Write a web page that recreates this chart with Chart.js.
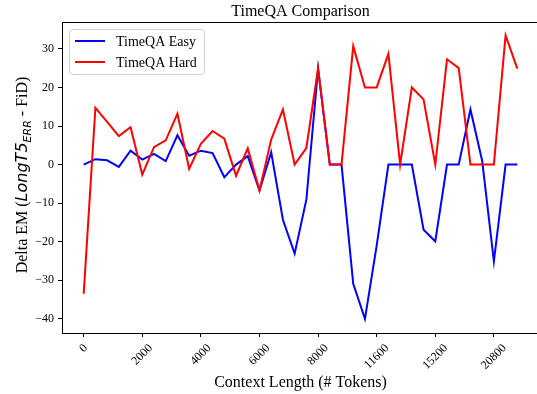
<!DOCTYPE html>
<html>
<head>
<meta charset="utf-8">
<script src="https://cdn.jsdelivr.net/npm/chart.js@4/dist/chart.umd.min.js"></script>
<style>
  html, body { margin: 0; padding: 0; background: #fff; overflow: hidden; }
  #wrap { width: 540px; height: 394px; }
</style>
</head>
<body>
<div id="wrap"><canvas id="chart" width="540" height="394"></canvas></div>
<script>
// ---------------- DATA ----------------

const seriesNames = ['TimeQA Easy', 'TimeQA Hard'];
const seriesColors = ['#0000ff', '#ff0000'];

// one value per measured context length (38 points, plotted by index)
const easyValues = [0, 1.4, 1.1, -0.6, 3.6, 1.3, 2.8, 0.9, 7.6, 2.3,
  3.6, 3.0, -3.3, 0, 2.2, -6.7, 3.2, -14.3, -23.1, -9.1,
  24.9, 0, 0, -30.9, -40, -21, 0, 0, 0, -16.9,
  -19.9, 0, 0, 14.3, 1, -25.1, 0, 0];

const hardValues = [-33.5, 14.7, 11.1, 7.4, 9.7, -2.6, 4.5, 6.3, 13.2, -1.1,
  5.4, 8.7, 6.7, -2.9, 4.2, -6.7, 6.5, 14.3, 0, 4.3,
  24.9, 0, 0, 30.7, 20, 20, 28.7, 0, 20, 16.9,
  0, 27.3, 25, 0, 0, 0, 33.5, 24.9];

// x tick labels sit on every 5th point
const xTickIndex = [0, 5, 10, 15, 20, 25, 30, 35];
const xTickLabels = ['0', '2000', '4000', '6000', '8000', '11600', '15200', '20800'];
const yTickValues = [-40, -30, -20, -10, 0, 10, 20, 30];

const SERIF = '"Liberation Serif", "Times New Roman", serif';

function toPoints(values) {
  return values.map((v, i) => ({ x: i, y: v }));
}

// ---------------- DECORATION PLUGIN ----------------

const decorPlugin = {
  id: 'decor',
  afterDraw(chart) {
    const ctx = chart.ctx;
    const a = chart.chartArea;
    const xs = chart.scales.x;

    ctx.save();

    // frame (matplotlib spines)
    ctx.strokeStyle = '#000';
    ctx.lineWidth = 1;
    ctx.strokeRect(Math.round(a.left) + 0.5, Math.round(a.top) + 0.5,
      Math.round(a.right - a.left) - 1, Math.round(a.bottom - a.top));

    // rotated x tick labels, centred under the tick
    ctx.fillStyle = '#000';
    ctx.font = '12px ' + SERIF;
    ctx.textAlign = 'center';
    ctx.textBaseline = 'middle';
    xTickIndex.forEach((idx, i) => {
      const txt = xTickLabels[i];
      const w = ctx.measureText(txt).width;
      const ext = (w + 12) * Math.SQRT1_2;
      const px = xs.getPixelForValue(idx);
      ctx.save();
      ctx.translate(px, a.bottom + 9 + ext / 2);
      ctx.rotate(-Math.PI / 4);
      ctx.fillText(txt, 0, 0);
      ctx.restore();
    });

    // title + x label
    const cx = (a.left + a.right) / 2;
    ctx.font = '16px ' + SERIF;
    ctx.textBaseline = 'alphabetic';
    ctx.fillText('TimeQA Comparison', cx, 15.5);
    ctx.fillText('Context Length (# Tokens)', cx, 387);

    // y label with mathtext-like part
    const parts = [
      { t: 'Delta EM (', f: '16px ' + SERIF, dy: 0 },
      { t: 'LongT5', f: 'italic 16px "DejaVu Sans"', dy: 0 },
      { t: 'ERR', f: 'italic 11px "DejaVu Sans"', dy: 3.5 },
      { t: ' - FiD)', f: '16px ' + SERIF, dy: 0 }
    ];
    let total = 0;
    parts.forEach(p => { ctx.font = p.f; p.w = ctx.measureText(p.t).width; total += p.w; });
    ctx.save();
    ctx.translate(27, 175);
    ctx.rotate(-Math.PI / 2);
    ctx.textAlign = 'left';
    let x0 = -total / 2;
    parts.forEach(p => { ctx.font = p.f; ctx.fillText(p.t, x0, p.dy); x0 += p.w; });
    ctx.restore();

    // legend box
    const lx = 69.5, ly = 29.5, lw = 135, lh = 45, r = 3;
    ctx.beginPath();
    ctx.moveTo(lx + r, ly);
    ctx.arcTo(lx + lw, ly, lx + lw, ly + lh, r);
    ctx.arcTo(lx + lw, ly + lh, lx, ly + lh, r);
    ctx.arcTo(lx, ly + lh, lx, ly, r);
    ctx.arcTo(lx, ly, lx + lw, ly, r);
    ctx.closePath();
    ctx.fillStyle = 'rgba(255,255,255,0.8)';
    ctx.fill();
    ctx.strokeStyle = '#d0d0d0';
    ctx.stroke();

    chart.data.datasets.forEach((ds, i) => {
      const yy = 41 + i * 21;
      ctx.strokeStyle = ds.borderColor;
      ctx.lineWidth = 2;
      ctx.beginPath();
      ctx.moveTo(75, yy);
      ctx.lineTo(105, yy);
      ctx.stroke();
      ctx.fillStyle = '#000';
      ctx.font = '14px ' + SERIF;
      ctx.textAlign = 'left';
      ctx.fillText(ds.label, 116, yy + 5);
    });

    ctx.restore();
  }
};

// ---------------- CHART ----------------

new Chart(document.getElementById('chart'), {
  type: 'line',
  data: {
    datasets: [
      {
        label: seriesNames[0],
        data: toPoints(easyValues),
        borderColor: seriesColors[0],
        borderWidth: 2,
        pointRadius: 0,
        tension: 0,
        fill: false,
        order: 1
      },
      {
        label: seriesNames[1],
        data: toPoints(hardValues),
        borderColor: seriesColors[1],
        borderWidth: 2,
        pointRadius: 0,
        tension: 0,
        fill: false,
        order: 0
      }
    ]
  },
  options: {
    responsive: false,
    animation: false,
    layout: { padding: { left: 0, top: 22, right: 1, bottom: 0 } },
    plugins: { legend: { display: false }, tooltip: { enabled: false } },
    scales: {
      x: {
        type: 'linear',
        min: -1.85,
        max: 38.85,
        afterBuildTicks: s => { s.ticks = xTickIndex.map(v => ({ value: v })); },
        afterFit: s => { s.height = 61; },
        ticks: { display: false },
        border: { display: false },
        grid: { drawOnChartArea: false, drawTicks: true, tickLength: 4, color: '#000', lineWidth: 1 }
      },
      y: {
        type: 'linear',
        min: -43.67,
        max: 36.97,
        afterBuildTicks: s => { s.ticks = yTickValues.map(v => ({ value: v })); },
        afterFit: s => { s.width = 62; },
        ticks: {
          color: '#000',
          padding: 4,
          font: { family: SERIF, size: 12 },
          callback: v => String(v).replace('-', '\u2212')
        },
        border: { display: false },
        grid: { drawOnChartArea: false, drawTicks: true, tickLength: 4, color: '#000', lineWidth: 1 }
      }
    }
  },
  plugins: [decorPlugin]
});
</script>
</body>
</html>
